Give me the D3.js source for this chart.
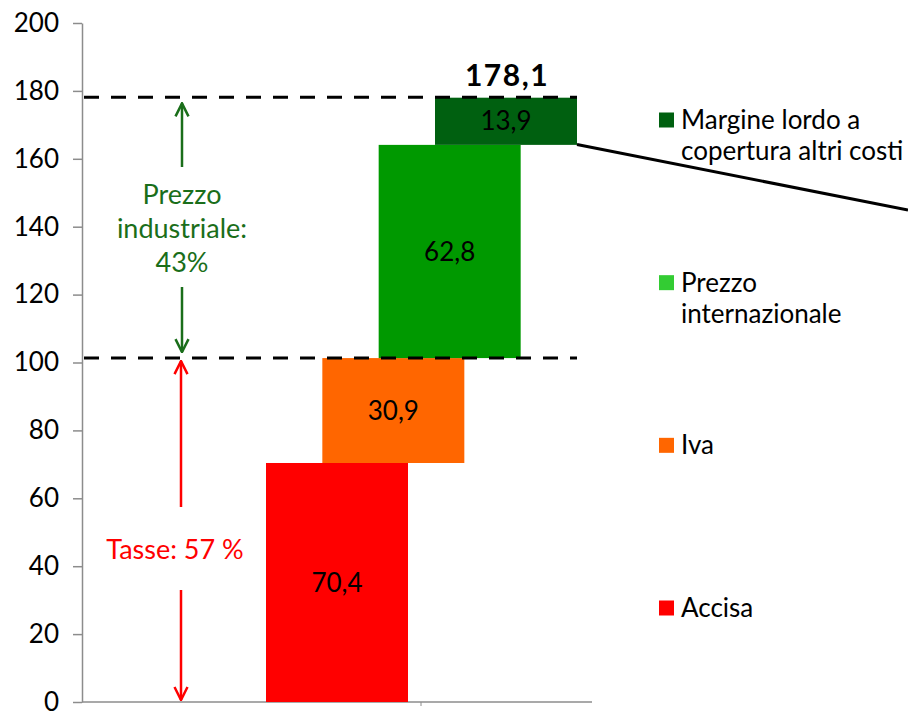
<!DOCTYPE html>
<html>
<head>
<meta charset="utf-8">
<script src="https://cdn.jsdelivr.net/npm/d3@7"></script>
<style>
  body { margin: 0; background: #fff; }
  svg { font-family: "Gill Sans", "Gill Sans MT", Lato, sans-serif; }
</style>
</head>
<body>
<div id="chart"></div>
<script>
// waterfall of the fuel price components
const components = ["Accisa", "Iva", "Prezzo internazionale", "Margine lordo a copertura altri costi"];
const values = [70.4, 30.9, 62.8, 13.9];
const valueLabels = ["70,4", "30,9", "62,8", "13,9"];
const barColors = ["#ff0000", "#ff6600", "#009900", "#006010"];
const legendColors = ["#ff0000", "#ff6600", "#33cc33", "#006010"];
const legendLines = [["Accisa"], ["Iva"], ["Prezzo", "internazionale"], ["Margine lordo a", "copertura altri costi"]];
const total = 178.1, totalLabel = "178,1";
const taxLevel = 101.3;
const yTicks = [0, 20, 40, 60, 80, 100, 120, 140, 160, 180, 200];

const width = 908, height = 712;

const svg = d3.select("#chart")
  .append("svg")
  .attr("width", width)
  .attr("height", height);

const y = d3.scaleLinear().domain([0, 200]).range([702, 23]);
const x = d3.scaleLinear().domain([0, 3]).range([337, 506]); // bar centres
const barW = 142;

// running base of each step
let acc = 0;
const steps = values.map((v, i) => {
  const s = { i: i, base: acc, top: acc + v, v: v };
  acc += v;
  return s;
});

// y axis
const yAxis = svg.append("g")
  .attr("transform", "translate(82,0)")
  .call(d3.axisLeft(y).tickValues(yTicks).tickSize(9).tickSizeOuter(0).tickPadding(14));
yAxis.select(".domain").attr("stroke", "#8c8c8c").attr("stroke-width", 1.5);
yAxis.selectAll(".tick line").attr("stroke", "#8c8c8c").attr("stroke-width", 1.5);
yAxis.selectAll(".tick text").attr("font-size", 26).attr("fill", "#000")
  .attr("font-family", "\"Gill Sans\", Lato, sans-serif");

// bottom axis
svg.append("line")
  .attr("x1", 82).attr("x2", 592)
  .attr("y1", y(0)).attr("y2", y(0))
  .attr("stroke", "#8c8c8c").attr("stroke-width", 1.5);
svg.append("line")
  .attr("x1", 421).attr("x2", 421)
  .attr("y1", y(0)).attr("y2", y(0) + 4)
  .attr("stroke", "#8c8c8c");

// bars
svg.selectAll("rect.bar")
  .data(steps)
  .enter()
  .append("rect")
  .attr("class", "bar")
  .attr("x", d => x(d.i) - barW / 2)
  .attr("width", barW)
  .attr("y", d => y(d.top))
  .attr("height", d => y(d.base) - y(d.top))
  .attr("fill", d => barColors[d.i]);

svg.selectAll("text.val")
  .data(steps)
  .enter()
  .append("text")
  .attr("class", "val")
  .attr("x", d => x(d.i))
  .attr("y", d => y((d.base + d.top) / 2))
  .attr("dy", "0.35em")
  .attr("text-anchor", "middle")
  .attr("font-size", 26)
  .text(d => valueLabels[d.i]);

// dashed reference lines
const lastRight = x(3) + barW / 2;
[total, taxLevel].forEach(v => {
  svg.append("line")
    .attr("x1", 84).attr("x2", lastRight)
    .attr("y1", y(v)).attr("y2", y(v))
    .attr("stroke", "#000").attr("stroke-width", 3)
    .attr("stroke-dasharray", "15 12");
});

svg.append("text")
  .attr("x", x(3) + 1)
  .attr("y", y(total) - 11)
  .attr("text-anchor", "middle")
  .attr("font-size", 30)
  .attr("font-weight", "bold")
  .attr("letter-spacing", 1.5)
  .text(totalLabel);

// leader line from the last bar to its legend entry
svg.append("line")
  .attr("x1", lastRight).attr("y1", y(total - values[3]))
  .attr("x2", 908).attr("y2", 210)
  .attr("stroke", "#000").attr("stroke-width", 3);

// arrows
const defs = svg.append("defs");
function marker(id, color) {
  defs.append("marker")
    .attr("id", id)
    .attr("viewBox", "0 0 16 16")
    .attr("refX", 15).attr("refY", 8)
    .attr("markerWidth", 16).attr("markerHeight", 16)
    .attr("markerUnits", "userSpaceOnUse")
    .attr("orient", "auto")
    .append("path")
    .attr("d", "M2,1.5 L15,8 L2,14.5")
    .attr("fill", "none")
    .attr("stroke", color)
    .attr("stroke-width", 2.5);
}
const green = "#1a6e1a";
marker("arrG", green);
marker("arrR", "#ff0000");

function arrow(x0, yFrom, yTo, color, id) {
  svg.append("line")
    .attr("x1", x0).attr("x2", x0)
    .attr("y1", yFrom).attr("y2", yTo)
    .attr("stroke", color).attr("stroke-width", 2.5)
    .attr("marker-end", "url(#" + id + ")");
}
arrow(182, 167, y(total) + 6, green, "arrG");
arrow(182, 287, y(taxLevel) - 6, green, "arrG");
arrow(181, 507, y(taxLevel) + 3, "#ff0000", "arrR");
arrow(181, 590, y(0) - 2, "#ff0000", "arrR");

svg.append("text")
  .attr("x", 182).attr("y", 195)
  .attr("text-anchor", "middle")
  .attr("fill", green)
  .attr("font-size", 27)
  .selectAll("tspan")
  .data(["Prezzo", "industriale:", "43%"])
  .enter()
  .append("tspan")
  .attr("x", 182)
  .attr("dy", (d, i) => i === 0 ? "0.35em" : 34)
  .text(d => d);

svg.append("text")
  .attr("x", 175).attr("y", 550)
  .attr("dy", "0.35em")
  .attr("text-anchor", "middle")
  .attr("fill", "#ff0000")
  .attr("font-size", 27)
  .text("Tasse: 57 %");

// legend, top entry first
const legendY = d3.scalePoint().domain([3, 2, 1, 0]).range([120, 608]);
const leg = svg.selectAll("g.leg")
  .data([3, 2, 1, 0])
  .enter()
  .append("g")
  .attr("class", "leg")
  .attr("transform", d => `translate(659,${legendY(d)})`);
leg.append("rect")
  .attr("x", 0).attr("y", -7.5)
  .attr("width", 15).attr("height", 15)
  .attr("fill", d => legendColors[d]);
leg.append("text")
  .attr("x", 22)
  .attr("font-size", 26)
  .selectAll("tspan")
  .data(d => legendLines[d])
  .enter()
  .append("tspan")
  .attr("x", 22)
  .attr("y", (d, i) => i * 31)
  .attr("dy", "0.35em")
  .text(d => d);
</script>
</body>
</html>
